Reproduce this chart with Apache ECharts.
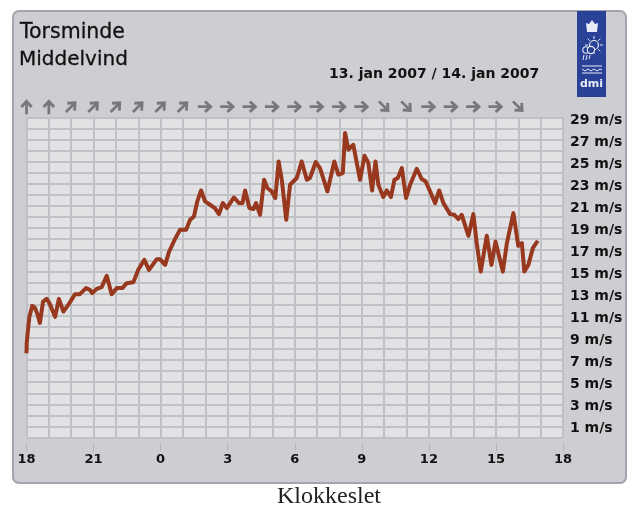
<!DOCTYPE html>
<html>
<head>
<meta charset="utf-8">
<title>Torsminde Middelvind</title>
<script src="https://cdn.jsdelivr.net/npm/echarts@6/dist/echarts.min.js"></script>
<style>
  html, body { margin: 0; padding: 0; background: #fff; }
  #panel {
    position: absolute; left: 12px; top: 10px; width: 611px; height: 470px;
    background: #cdced1; border: 2px solid #a3a4ac; border-radius: 7px;
  }
  #chart { position: absolute; left: 0; top: 0; width: 635px; height: 506px; }
</style>
</head>
<body>
<div id="panel"></div>
<div id="chart"></div>
<script>
// timer efter kl. 18 (13. jan)
const hours = [0, 0.01, 0.08, 0.13, 0.26, 0.38, 0.5, 0.6, 0.74, 0.9, 1.02, 1.28, 1.45, 1.65, 1.87, 2.17, 2.39, 2.66, 2.84, 2.94,
  3.14, 3.36, 3.59, 3.81, 4.04, 4.29, 4.48, 4.78, 5.0, 5.27, 5.48, 5.83, 5.97, 6.2, 6.38, 6.64, 6.87, 7.14, 7.32, 7.49,
  7.64, 7.81, 7.99, 8.21, 8.43, 8.61, 8.78, 8.96, 9.28, 9.51, 9.66, 9.78, 9.97, 10.15, 10.27, 10.45, 10.63, 10.77, 10.97, 11.13,
  11.28, 11.42, 11.62, 11.79, 12.09, 12.31, 12.54, 12.68, 12.94, 13.13, 13.46, 13.77, 13.95, 14.15, 14.25, 14.4, 14.62, 14.92, 15.12, 15.29,
  15.46, 15.61, 15.74, 15.96, 16.12, 16.3, 16.46, 16.61, 16.79, 16.98, 17.16, 17.46, 17.68, 17.86, 18.28, 18.46, 18.65, 18.95, 19.14, 19.32,
  19.47, 19.77, 19.99, 20.14, 20.32, 20.59, 20.8, 20.98, 21.31, 21.49, 21.78, 22.0, 22.16, 22.27, 22.45, 22.65, 22.87];
const windSpeed = [7.64, 8.57, 10.05, 10.96, 11.94, 11.75, 11.12, 10.39, 12.33, 12.57, 12.21, 10.94, 12.57, 11.42, 12.03, 13.0, 13.0, 13.55, 13.39, 13.09,
  13.48, 13.64, 14.66, 13.0, 13.55, 13.55, 14.0, 14.09, 15.21, 16.12, 15.21, 16.18, 16.18, 15.66, 16.87, 18.0, 18.85, 18.85, 19.75, 20.05,
  21.42, 22.42, 21.42, 21.12, 20.82, 20.27, 21.27, 20.82, 21.78, 21.27, 21.27, 22.42, 20.82, 20.73, 21.27, 20.21, 23.39, 22.64, 22.33, 21.73,
  25.05, 23.39, 19.75, 22.94, 23.55, 25.05, 23.39, 23.55, 25.0, 24.45, 22.33, 25.05, 23.85, 24.0, 27.64, 26.12, 26.57, 23.39, 25.57, 24.94,
  22.42, 25.05, 22.94, 21.82, 22.42, 21.82, 23.39, 23.55, 24.45, 21.73, 22.94, 24.39, 23.45, 23.24, 21.27, 22.42, 21.27, 20.27, 20.21, 19.82,
  20.21, 18.3, 20.27, 17.64, 15.05, 18.3, 15.66, 17.78, 15.05, 17.64, 20.36, 17.39, 17.64, 15.05, 15.66, 17.18, 17.85];

// vindretning pr. time, grader (0 = op, 90 = hoejre)
const arrowHours = [0, 1, 2, 3, 4, 5, 6, 7, 8, 9, 10, 11, 12, 13, 14, 15, 16, 17, 18, 19, 20, 21, 22];
const arrowDirs = [0, 0, 45, 45, 45, 45, 45, 45, 90, 90, 90, 90, 90, 90, 90, 90, 135, 135, 90, 90, 90, 90, 135];

const xTickLabels = ["18", "21", "0", "3", "6", "9", "12", "15", "18"];

const arrowPath = "path://M12 0L22 11L18.5 14L14.2 9.2V24H9.8V9.2L5.5 14L2 11Z";
const labelFont = "DejaVu Sans";
const gridColor = "#bfc1c5";

const chart = echarts.init(document.getElementById("chart"));

// dmi-logoet tegnes som simple figurer
const white = "#e8ecf6";
const blue = "#2a4198";
const sunRays = [0, 45, 90, 135, 180, 225, 270, 315].map(function (a) {
  const r = a * Math.PI / 180;
  return {
    type: "line",
    shape: { x1: 594 + Math.cos(r) * 6, y1: 45 + Math.sin(r) * 6, x2: 594 + Math.cos(r) * 9, y2: 45 + Math.sin(r) * 9 },
    style: { stroke: white, lineWidth: 1 }
  };
});
const logo = [
  { type: "rect", shape: { x: 577, y: 11, width: 29, height: 86 }, style: { fill: blue } },
  { type: "polygon", shape: { points: [[586, 23], [589, 24], [592, 20], [595, 24], [598, 23], [597, 32], [587, 32]] }, style: { fill: white } }
].concat(sunRays).concat([
  { type: "circle", shape: { cx: 594, cy: 45, r: 4.5 }, style: { fill: blue, stroke: white, lineWidth: 1.2 } },
  { type: "circle", shape: { cx: 586, cy: 50, r: 3.2 }, style: { fill: blue, stroke: white, lineWidth: 1.1 } },
  { type: "circle", shape: { cx: 591, cy: 50, r: 3.6 }, style: { fill: blue, stroke: white, lineWidth: 1.1 } },
  { type: "line", shape: { x1: 584, y1: 55, x2: 583, y2: 60 }, style: { stroke: white, lineWidth: 1 } },
  { type: "line", shape: { x1: 587, y1: 55, x2: 586, y2: 60 }, style: { stroke: white, lineWidth: 1 } },
  { type: "line", shape: { x1: 590, y1: 55, x2: 589, y2: 59 }, style: { stroke: white, lineWidth: 1 } },
  { type: "line", shape: { x1: 582, y1: 66, x2: 602, y2: 66 }, style: { stroke: white, lineWidth: 1 } },
  { type: "polyline", shape: { points: [[582, 69], [585, 71], [588, 69], [591, 71], [594, 69], [597, 71], [600, 69], [602, 70]] }, style: { fill: null, stroke: white, lineWidth: 1 } },
  { type: "line", shape: { x1: 582, y1: 73, x2: 602, y2: 73 }, style: { stroke: white, lineWidth: 1 } },
  { type: "text", x: 591.5, y: 84, style: { text: "dmi", fill: white, font: "bold 11px DejaVu Sans", align: "center", verticalAlign: "middle" } }
]);

const option = {
  animation: false,
  backgroundColor: "transparent",
  title: [
    { text: "Torsminde", left: 20, top: 22, padding: 0, textStyle: { fontFamily: labelFont, fontSize: 20.5, fontWeight: "normal", color: "#111", textBorderColor: "#111", textBorderWidth: 0.3 } },
    { text: "Middelvind", left: 19, top: 50, padding: 0, textStyle: { fontFamily: labelFont, fontSize: 20, fontWeight: "normal", color: "#111", textBorderColor: "#111", textBorderWidth: 0.3 } },
    { text: "13. jan 2007 / 14. jan 2007", left: 329, top: 67, padding: 0, textStyle: { fontFamily: labelFont, fontSize: 14, fontWeight: "bold", color: "#111" } },
    { text: "Klokkeslet", left: 277, top: 485, padding: 0, textStyle: { fontFamily: "Liberation Serif", fontSize: 24, fontWeight: "normal", color: "#222" } }
  ],
  grid: { left: 26.5, top: 118, width: 536.5, height: 319.3, show: true, backgroundColor: "#e2e2e4", borderWidth: 0 },
  xAxis: [
    {
      // timelinjer
      type: "value", min: 0, max: 24, interval: 1,
      axisLine: { show: false }, axisTick: { show: false }, axisLabel: { show: false },
      splitLine: { show: true, lineStyle: { color: gridColor, width: 2 } }
    },
    {
      // klokkeslet under grafen
      type: "value", min: 0, max: 24, interval: 3, position: "bottom", offset: 6,
      axisLine: { show: false },
      axisTick: { show: true, length: 8, lineStyle: { color: "#b4b6ba", width: 1 } },
      axisLabel: {
        margin: 10, color: "#111",
        fontFamily: labelFont, fontSize: 13, fontWeight: "bold",
        formatter: function (v) { return xTickLabels[v / 3]; }
      },
      splitLine: { show: false }
    }
  ],
  yAxis: {
    type: "value", min: 0, max: 29, interval: 1, position: "right",
    axisLine: { show: false }, axisTick: { show: false },
    axisLabel: {
      margin: 7, color: "#111", align: "left", verticalAlign: "top", lineHeight: 5,
      fontFamily: labelFont, fontSize: 14, fontWeight: "bold",
      formatter: function (v) { return v % 2 === 1 ? v + " m/s" : ""; }
    },
    splitLine: { show: true, lineStyle: { color: gridColor, width: 2 } }
  },
  series: [
    {
      type: "line", showSymbol: false, smooth: false, z: 5,
      lineStyle: { color: "#98381e", width: 4, join: "round" },
      data: hours.map(function (h, i) { return [h, windSpeed[i]]; })
    },
    {
      type: "scatter", clip: false, z: 6,
      symbol: arrowPath, symbolSize: 15, symbolKeepAspect: true,
      itemStyle: { color: "#77787c", opacity: 1 },
      data: arrowHours.map(function (h, i) {
        return { value: [h, 30.03], symbolRotate: -arrowDirs[i] };
      })
    }
  ],
  graphic: logo
};
chart.setOption(option);
window.addEventListener("resize", function () { chart.resize(); });
</script>
</body>
</html>
